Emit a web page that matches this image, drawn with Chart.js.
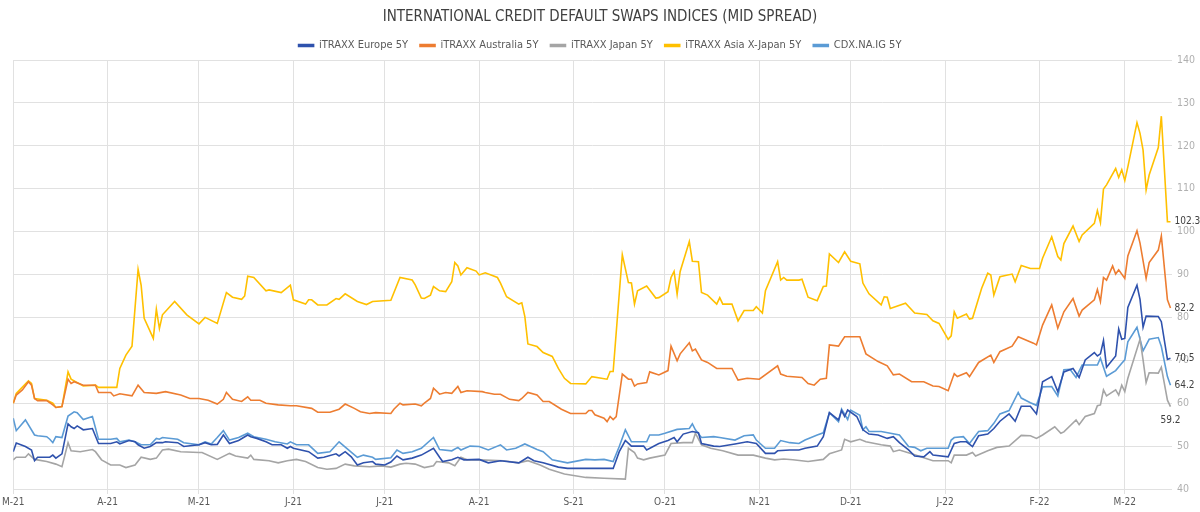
<!DOCTYPE html>
<html>
<head>
<meta charset="utf-8">
<script src="https://cdn.jsdelivr.net/npm/chart.js@4.4.1/dist/chart.umd.min.js"></script>
<style>
  body { margin: 0; background: #fff; }
</style>
</head>
<body>
<canvas id="cdsChart" width="1200" height="512"></canvas>
<script>
// days counted from 1 March 2021
const monthLabels = ['M-21','A-21','M-21','J-21','J-21','A-21','S-21','O-21','N-21','D-21','J-22','F-22','M-22'];

const europeDays = [0,1,4,6,7,8,12,13,14,16,
  18,19,20,21,23,26,28,32,34,35,
  38,40,41,43,45,47,49,50,54,56,
  61,63,65,67,69,71,74,77,78,80,
  83,85,88,90,91,92,97,100,102,106,
  107,109,111,113,115,118,119,122,124,126,
  128,131,134,138,140,141,144,146,148,153,
  156,160,166,169,171,174,179,182,188,192,
  197,199,201,203,207,208,212,215,217,218,
  220,223,225,226,230,232,237,241,244,247,
  250,251,255,258,260,264,266,268,271,272,
  273,274,277,279,281,284,287,289,291,294,
  296,299,301,302,307,309,311,313,315,317,
  320,322,324,327,329,331,334,336,338,341,
  343,345,348,350,352,355,356,357,358,359,
  362,363,364,365,366,369,370,371,372,376,
  377,379,380];
const europeVals = [48.7,50.7,49.9,49.1,46.6,47.4,47.4,47.9,47.2,48.2,
  55.2,54.5,54.1,54.7,53.8,54.1,50.6,50.6,51.0,50.5,
  51.3,51.0,50.3,49.5,49.9,50.8,50.8,51.0,50.8,49.9,
  50.3,50.8,50.3,50.4,52.6,50.6,51.3,52.6,52.2,51.8,
  51.0,50.3,50.3,49.5,49.9,49.5,48.7,47.2,47.4,48.2,
  47.7,48.7,47.5,45.6,46.1,46.4,45.8,45.6,46.3,47.7,
  46.8,47.2,47.9,49.5,47.4,46.4,46.8,47.4,46.8,46.9,
  46.1,46.6,46.1,47.4,46.6,46.1,45.1,44.8,44.8,44.8,
  44.8,48.7,51.3,50.0,50.0,49.1,50.6,51.3,52.0,51.0,
  52.8,53.4,53.1,50.6,50.0,49.9,50.5,51.0,50.6,48.3,
  48.3,48.9,49.1,49.1,49.5,50.0,52.2,57.8,56.1,58.3,
  56.9,58.4,56.9,53.8,52.8,52.6,51.8,52.2,50.8,49.1,
  47.7,47.5,48.7,47.9,47.5,50.6,51.0,51.0,49.9,52.4,
  52.8,54.1,55.8,57.5,55.8,59.3,59.3,57.5,65.0,66.2,
  62.7,67.3,68.1,66.0,70.1,71.8,71.0,71.5,74.6,68.4,
  71.0,77.3,74.9,75.1,82.3,87.5,84.2,77.7,80.3,80.2,
  79.0,70.2,70.5];

const australiaDays = [0,1,3,5,6,7,8,11,13,14,
  16,18,19,20,23,27,28,32,33,35,
  39,41,43,47,50,55,58,61,64,67,
  69,70,72,75,77,78,81,83,87,91,
  93,98,100,104,107,109,112,114,117,119,
  124,125,127,128,132,134,135,137,138,140,
  142,144,146,147,149,154,155,158,160,163,
  166,167,169,172,174,176,180,183,188,189,
  190,191,194,195,196,197,198,200,202,203,
  204,205,208,209,212,215,216,218,219,222,
  223,224,226,228,231,236,238,241,245,251,
  252,254,259,261,263,265,267,268,271,273,
  278,280,284,287,289,291,295,299,302,304,
  307,309,310,313,314,317,321,322,324,328,
  330,335,336,338,341,343,345,348,350,351,
  355,356,357,358,359,361,362,363,365,366,
  369,370,372,373,376,377,379,380];
const australiaVals = [60.0,61.9,63.1,65.0,64.2,61.1,60.6,60.6,59.6,59.0,
  59.2,65.6,64.6,65.0,64.2,64.2,62.5,62.5,61.7,62.2,
  61.7,64.2,62.5,62.3,62.7,61.9,61.1,61.1,60.7,59.8,
  60.9,62.5,60.9,60.4,61.5,60.7,60.7,60.0,59.6,59.4,
  59.4,58.8,57.9,57.9,58.6,59.8,58.8,58.0,57.6,57.8,
  57.6,58.6,60.0,59.6,59.8,59.4,60.0,61.1,63.5,62.1,
  62.5,62.3,63.9,62.5,62.9,62.7,62.5,62.1,62.1,60.9,
  60.6,61.1,62.5,61.9,60.4,60.4,58.6,57.6,57.6,58.3,
  58.3,57.3,56.5,55.7,56.9,56.2,56.9,66.8,65.6,65.6,
  64.0,64.5,64.8,67.3,66.6,67.6,73.3,69.9,71.5,74.1,
  72.2,72.6,70.1,69.5,68.1,68.1,65.4,65.8,65.6,68.7,
  66.8,66.3,66.0,64.6,64.2,65.6,65.8,73.6,73.3,75.5,
  75.5,71.5,69.7,68.7,66.6,66.8,65.0,65.0,64.0,63.9,
  62.9,66.9,66.2,67.1,66.2,69.5,71.2,69.5,72.0,73.3,
  75.5,74.0,73.6,78.2,82.9,77.5,81.3,84.4,80.3,81.7,
  84.1,86.5,83.7,89.3,88.7,92.0,90.1,91.1,89.1,94.3,
  100.2,97.3,89.1,92.8,95.7,99.0,84.1,82.2];

const japanDays = [0,1,4,5,7,11,14,16,18,19,
  22,26,27,29,32,35,37,40,42,45,
  47,49,51,55,61,62,67,71,73,77,
  78,79,84,87,90,93,96,100,103,106,
  109,112,117,121,124,127,129,132,135,138,
  139,143,145,147,149,153,161,166,169,173,
  176,181,188,194,201,202,204,205,207,209,
  214,216,220,223,224,226,229,233,238,243,
  247,250,253,256,261,266,268,272,273,275,
  278,280,285,288,289,291,295,298,302,307,
  308,309,313,315,316,320,323,327,331,334,
  336,338,342,344,345,349,350,352,355,356,
  357,358,359,362,363,364,365,366,370,371,
  372,373,376,377,379,380];
const japanVals = [46.8,47.4,47.4,48.2,46.9,46.4,45.8,45.2,50.8,48.9,
  48.7,49.2,48.7,46.8,45.6,45.6,45.0,45.6,47.4,46.9,
  47.2,49.1,49.3,48.7,48.5,48.5,46.9,48.3,47.7,47.2,
  47.9,46.9,46.6,46.1,46.6,46.9,46.4,45.0,44.6,44.8,
  45.8,45.4,45.2,45.4,45.1,45.8,46.0,45.8,45.0,45.4,
  46.4,46.1,45.4,47.4,46.8,46.8,46.6,46.1,46.6,45.6,
  44.6,43.5,42.7,42.5,42.3,49.5,48.5,47.2,46.8,47.2,
  47.9,50.6,50.8,50.8,53.0,50.3,49.5,48.9,47.9,47.9,
  47.2,46.8,47.0,46.8,46.4,46.9,48.2,49.1,51.6,51.0,
  51.6,51.0,50.3,50.0,48.7,49.1,48.2,47.5,46.6,46.6,
  46.1,47.9,47.9,48.5,47.7,48.9,49.7,50.0,52.5,52.4,
  51.8,52.6,54.5,53.0,53.3,56.1,55.0,56.9,57.6,59.4,
  59.6,63.1,61.7,63.1,61.9,64.2,62.7,65.8,74.9,70.1,
  64.8,67.1,67.0,68.4,60.7,59.2];

const asiaDays = [0,1,5,6,7,11,13,14,16,18,
  19,23,27,28,34,35,37,39,41,42,
  43,46,47,48,49,53,57,61,63,67,
  70,72,75,76,77,79,83,84,88,91,
  92,96,97,98,100,103,106,107,109,113,
  116,118,124,127,131,132,134,135,137,138,
  140,142,144,145,146,147,149,152,153,155,
  159,160,162,166,167,168,169,172,174,177,
  179,181,183,188,190,195,196,197,200,202,
  203,204,205,208,211,212,215,216,217,218,
  219,222,223,225,226,228,231,232,233,236,
  238,240,243,244,246,247,251,252,253,254,
  258,259,261,264,266,267,268,271,273,275,
  278,279,281,285,286,287,288,293,296,300,
  302,304,307,308,309,310,313,314,315,318,
  320,321,322,324,328,329,331,334,337,338,
  341,343,344,345,348,350,351,355,356,357,
  358,359,362,363,364,365,366,369,370,371,
  372,373,376,377,379,380];
const asiaVals = [60.0,62.3,65.2,64.6,61.1,60.7,60.0,59.0,59.2,67.3,
  65.6,64.0,64.2,63.7,63.7,68.1,71.2,73.3,91.2,87.5,
  79.8,75.1,81.9,77.4,80.6,83.7,80.6,78.5,80.0,78.6,
  85.8,84.7,84.2,85.0,89.6,89.3,86.2,86.4,85.8,87.5,
  84.1,83.1,84.1,84.1,82.9,82.9,84.4,84.2,85.5,83.7,
  83.0,83.7,84.0,89.3,88.7,87.6,84.5,84.4,85.2,87.2,
  86.2,86.0,88.3,92.8,92.0,89.9,91.6,90.8,89.9,90.4,
  89.3,88.0,84.8,83.1,83.4,80.2,73.8,73.2,71.8,70.9,
  68.1,65.8,64.6,64.5,66.2,65.6,67.4,67.4,94.6,88.1,
  88.0,83.1,86.2,87.3,84.5,84.6,86.0,89.3,90.7,85.4,
  90.7,97.7,93.1,93.0,85.8,85.2,83.1,84.6,83.1,83.1,
  79.2,81.6,81.6,82.5,81.0,86.2,93.0,88.7,89.3,88.7,
  88.7,88.9,84.7,83.9,87.2,87.3,94.8,92.8,95.3,93.1,
  92.5,88.0,85.5,82.9,84.8,84.7,82.1,83.3,81.0,80.7,
  79.2,78.6,74.9,75.7,81.3,79.8,80.8,79.6,79.8,86.8,
  90.3,89.9,85.2,89.5,90.1,88.3,92.1,91.4,91.4,93.8,
  98.8,94.2,93.4,97.2,101.3,97.7,99.2,101.9,104.9,102.1,
  109.9,110.9,114.7,112.6,114.4,111.9,115.1,125.4,122.9,119.0,
  109.7,113.2,119.6,126.9,102.3,102.3];

const cdxDays = [0,1,4,7,8,11,12,13,14,16,
  18,20,21,23,26,28,32,34,35,38,
  40,42,45,47,48,49,54,56,61,63,
  65,67,69,71,74,77,79,83,86,90,
  91,93,97,100,104,107,110,113,115,118,
  119,124,126,128,131,134,138,140,144,146,
  147,150,153,156,160,162,165,168,172,174,
  177,182,188,191,194,197,199,201,203,208,
  209,212,214,218,222,223,224,226,230,232,
  237,240,243,244,247,250,252,255,258,260,
  264,266,268,271,272,274,275,278,279,280,
  281,285,291,294,296,298,300,307,308,309,
  312,314,317,320,322,324,327,330,331,334,
  336,338,341,343,345,347,349,351,356,357,
  359,362,364,365,366,369,371,373,376,377,
  379,380];
const cdxVals = [56.5,53.6,56.1,52.6,52.4,52.2,51.6,50.8,52.2,52.0,
  57.0,58.0,57.8,56.2,56.9,51.6,51.6,51.8,51.0,51.4,
  51.0,50.3,50.3,51.8,51.6,52.0,51.6,50.8,50.3,51.0,
  50.5,52.0,53.6,51.4,52.0,53.0,52.2,51.6,51.0,50.5,
  51.0,50.3,50.3,48.3,48.7,51.0,49.2,47.4,47.9,47.4,
  46.9,47.3,49.1,48.3,48.7,49.5,52.0,49.2,48.9,49.7,
  49.1,50.0,49.9,49.1,50.3,49.1,49.5,50.5,49.2,48.7,
  46.8,46.1,46.9,46.8,46.9,46.4,49.9,53.8,51.0,51.0,
  52.6,52.6,53.0,53.9,54.1,55.2,53.8,52.0,52.2,52.0,
  51.4,52.4,52.6,51.4,49.5,49.5,51.3,50.8,50.6,51.4,
  52.6,53.1,57.8,55.7,58.6,56.2,58.4,57.2,53.8,54.5,
  53.4,53.4,52.6,49.9,49.7,48.9,49.5,49.5,51.4,52.0,
  52.2,50.6,53.4,53.6,55.3,57.5,58.3,62.5,61.2,60.1,
  59.5,63.8,63.9,61.7,67.8,67.9,66.0,68.9,68.9,70.5,
  66.3,67.6,69.3,70.1,74.3,77.7,72.2,74.9,75.3,73.2,
  66.2,64.2];

const FONT = "'Liberation Sans Narrow', 'DejaVu Sans Condensed', sans-serif";

const start = Date.UTC(2021, 2, 1);
const monthTicks = monthLabels.map((m, i) => (Date.UTC(2021, 2 + i, 1) - start) / 864e5);

function pts(days, vals) {
  return days.map((d, i) => ({ x: d, y: vals[i] }));
}

function line(label, days, vals, color, below) {
  return {
    label: label,
    data: pts(days, vals),
    borderColor: color,
    backgroundColor: color,
    borderWidth: 1.6,
    pointRadius: 0,
    tension: 0,
    labelBelow: below
  };
}

// last value written next to the end of each line
const endLabels = {
  id: 'endLabels',
  afterDatasetsDraw(chart) {
    const c = chart.ctx;
    chart.data.datasets.forEach((ds, i) => {
      const meta = chart.getDatasetMeta(i);
      const p = meta.data[meta.data.length - 1];
      const v = ds.data[ds.data.length - 1].y;
      c.save();
      c.font = '10px ' + FONT;
      c.fillStyle = '#404040';
      if (ds.labelBelow) {
        c.textAlign = 'center';
        c.textBaseline = 'top';
        c.fillText(v.toFixed(1), p.x, p.y + 9);
      } else {
        c.textAlign = 'left';
        c.textBaseline = 'middle';
        c.fillText(v.toFixed(1), p.x + 4, p.y);
      }
      c.restore();
    });
  }
};

// legend box is kept short so the plot starts right below it
const legendHeight = {
  id: 'legendHeight',
  beforeInit(chart) {
    const fit = chart.legend.fit;
    chart.legend.fit = function () {
      fit.bind(chart.legend)();
      this.height = 32;
    };
  }
};

const ctx = document.getElementById('cdsChart');

new Chart(ctx, {
  type: 'line',
  data: {
    datasets: [
      line('iTRAXX Europe 5Y', europeDays, europeVals, '#2f52ad', false),
      line('iTRAXX Australia 5Y', australiaDays, australiaVals, '#ed7d31', false),
      line('iTRAXX Japan 5Y', japanDays, japanVals, '#a5a5a5', true),
      line('iTRAXX Asia X-Japan 5Y', asiaDays, asiaVals, '#ffc000', false),
      line('CDX.NA.IG 5Y', cdxDays, cdxVals, '#5b9bd5', false)
    ]
  },
  options: {
    responsive: false,
    animation: false,
    layout: { padding: { left: 0, right: 0, top: 0, bottom: 2 } },
    plugins: {
      title: {
        display: true,
        text: 'INTERNATIONAL CREDIT DEFAULT SWAPS INDICES (MID SPREAD)',
        color: '#404040',
        font: { family: FONT, size: 15, weight: 'normal' },
        padding: { top: 8, bottom: 2 }
      },
      legend: {
        labels: {
          boxWidth: 15,
          boxHeight: 2,
          color: '#595959',
          font: { family: FONT, size: 11 },
          padding: 12
        }
      },
      tooltip: { enabled: false }
    },
    scales: {
      x: {
        type: 'linear',
        min: 0,
        max: 380.5,
        afterBuildTicks: s => { s.ticks = monthTicks.map(v => ({ value: v })); },
        ticks: {
          autoSkip: false,
          maxRotation: 0,
          padding: 2,
          color: '#595959',
          font: { family: FONT, size: 10 },
          callback: v => monthLabels[monthTicks.indexOf(v)]
        },
        grid: { color: '#e1e1e1', tickLength: 5 },
        border: { display: false },
        afterFit: s => { s.height = 21; }
      },
      y: {
        position: 'right',
        min: 40,
        max: 140,
        ticks: { stepSize: 10, color: '#b0b0b0', font: { family: FONT, size: 10.5 }, padding: 5 },
        grid: { color: '#e1e1e1', drawTicks: false },
        border: { display: false },
        afterFit: s => { s.width = 28; }
      }
    }
  },
  plugins: [endLabels, legendHeight]
});
</script>
</body>
</html>
